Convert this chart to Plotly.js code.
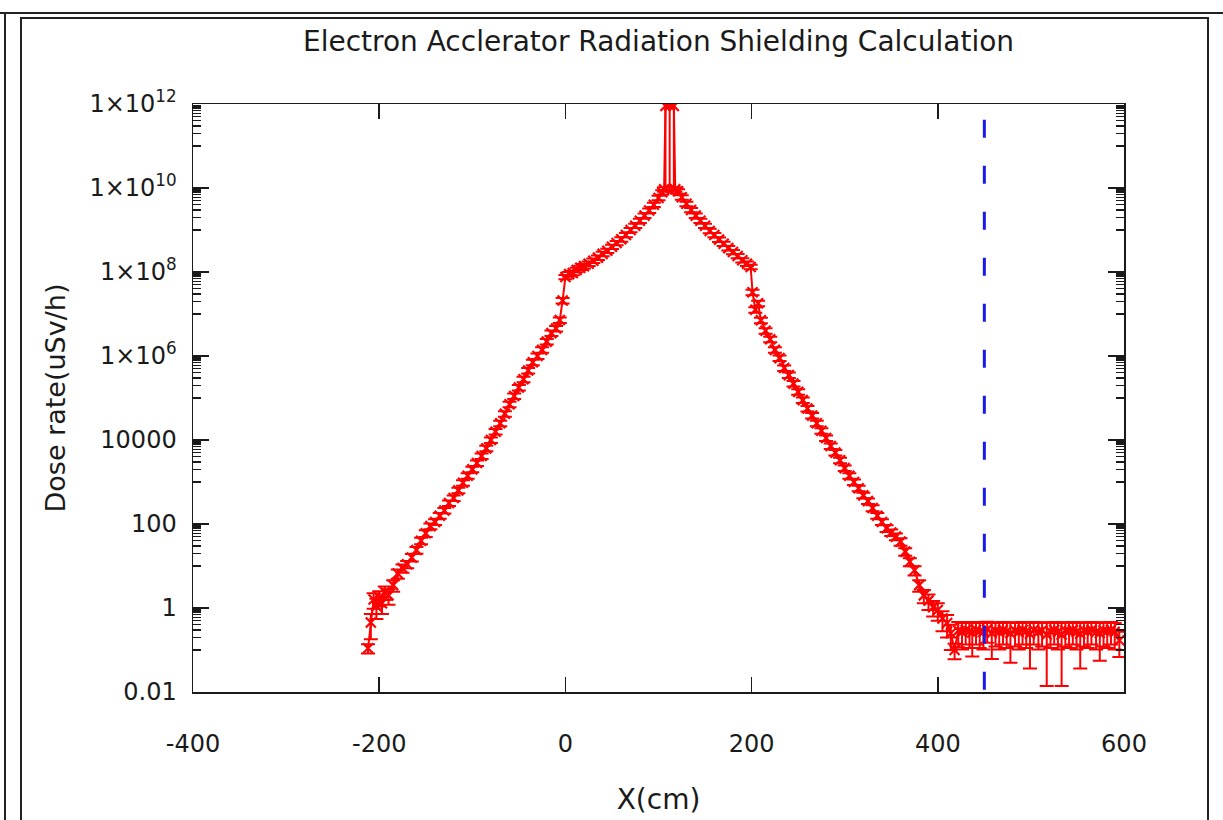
<!DOCTYPE html>
<html>
<head>
<meta charset="utf-8">
<script src="https://cdn.plot.ly/plotly-3.0.1.min.js"></script>
<style>
  html, body { margin: 0; padding: 0; background: #ffffff; }
  #wrap { position: relative; width: 1223px; height: 820px; overflow: hidden; }
  #chart { position: absolute; left: 0; top: 0; width: 1223px; height: 820px; }
  .frame { position: absolute; pointer-events: none; }
</style>
</head>
<body>
<div id="wrap">
  <div id="chart"></div>
  <div class="frame" style="left:0;top:12px;width:1223px;height:2px;background:#222;"></div>
  <div class="frame" style="left:4px;top:12px;width:2px;height:820px;background:#222;"></div>
  <div class="frame" style="left:20px;top:17px;width:1189px;height:830px;border:2px solid #222;box-sizing:border-box;"></div>
</div>
<script>
// ---- data ----
const positionCm = [
  -212,-209,-206,-203,-200,-197,-194,-190,-185,-180,-175,-170,-165,-160,-155,-150,-145,-140,-135,-130,
  -125,-120,-115,-110,-105,-100,-95,-90,-85,-80,-75,-70,-65,-60,-55,-50,-45,-40,-35,-30,
  -25,-20,-15,-10,-6,-3,0,
  4,8,12,16,20,25,30,35,40,45,50,55,60,65,70,75,80,85,90,95,100,104,106,
  107.5,112,116.5,
  118,121,125,130,135,140,145,150,155,160,165,170,175,180,185,190,195,199,
  201,204,207,210,215,220,225,230,235,240,245,250,255,260,265,270,275,280,285,290,
  295,300,305,310,315,320,325,330,335,340,345,350,355,360,365,370,375,380,385,390,
  395,400,405,410,414,418,
  422,426,430,434,437,441,445,449,453,458,462,466,470,474,478,483,487,491,495,499,
  503,508,512,517,521,525,529,533,537,541,545,549,553,557,561,565,570,574,578,582,
  586,590,595
];
const doseRate = [
  0.11,0.45,1.6,1.1,1.8,1.3,2.4,2.0,3.5,6.6,8.9,11,16,24,40,60,89,112,158,209,
  316,417,631,955,1410,2000,2820,4170,6310,1.0e4,1.58e4,2.5e4,4.2e4,7.1e4,1.12e5,1.78e5,2.8e5,4.5e5,7.1e5,1.0e6,
  1.4e6,2.2e6,3.5e6,4.5e6,7.2e6,2.1e7,7.6e7,
  8.9e7,9.5e7,1.12e8,1.26e8,1.38e8,1.58e8,1.86e8,2.2e8,2.7e8,3.2e8,4.0e8,4.9e8,6.0e8,7.6e8,1.0e9,1.26e9,1.66e9,2.2e9,2.9e9,4.0e9,5.8e9,7.9e9,9.3e9,
  9.0e11,9.2e11,9.0e11,
  9.3e9,8.3e9,6.0e9,4.2e9,3.0e9,2.2e9,1.66e9,1.26e9,9.5e8,7.6e8,5.9e8,4.7e8,3.7e8,3.0e8,2.4e8,1.9e8,1.58e8,1.32e8,
  3.3e7,1.26e7,1.8e7,7.1e6,4.0e6,2.5e6,1.4e6,8.9e5,5.2e5,3.5e5,2.2e5,1.4e5,8.9e4,5.6e4,3.8e4,2.5e4,1.66e4,1.12e4,7200,5000,
  3300,2140,1410,1000,710,480,350,240,158,112,79,63,50,38,22,12.6,7.9,3.5,2.0,1.5,
  1.05,0.9,0.56,0.44,0.25,0.1,
  0.29,0.27,0.3,0.28,0.26,0.3,0.28,0.27,0.31,0.256,0.29,0.27,0.3,0.28,0.25,0.29,0.27,0.3,0.28,0.243,
  0.3,0.27,0.29,0.233,0.28,0.3,0.27,0.232,0.29,0.28,0.3,0.27,0.243,0.29,0.28,0.3,0.27,0.253,0.29,0.28,
  0.3,0.27,0.17
];
// relative statistical error of each point, in percent
const errorPct = [
  25,60,40,50,40,45,35,40,30,25,22,20,20,18,18,18,16,16,16,15,
  15,15,15,15,15,15,15,15,15,15,15,15,15,15,15,15,15,15,15,15,
  15,15,15,15,15,15,12,
  12,12,12,12,12,12,12,12,12,12,12,12,12,12,12,12,12,12,12,12,12,12,12,
  99,99,99,
  12,12,12,12,12,12,12,12,12,12,12,12,12,12,12,12,12,12,
  15,15,15,15,15,15,15,15,15,15,15,15,15,15,15,15,15,15,15,15,
  15,15,15,15,15,15,15,16,16,16,18,18,18,20,20,22,25,30,35,40,
  40,45,50,55,60,40,
  60,62,55,60,73,55,60,62,52,76,58,62,55,60,80,58,62,55,60,85,
  55,62,58,94,60,55,62,94,58,60,55,62,85,58,60,55,62,78,58,60,
  55,62,60
];
const shieldPosCm = [450, 450];
const shieldLineDose = [4.2e11, 0.01];

const yTickVals = [0.01, 1, 100, 1e4, 1e6, 1e8, 1e10, 1e12];
const yTickText = ['0.01', '1', '100', '10000', '1×10<sup>6</sup>', '1×10<sup>8</sup>', '1×10<sup>10</sup>', '1×10<sup>12</sup>'];
const yMinorDecades = [-1, 1, 3, 5, 7, 9, 11];
const yMinorMult = [1, 2, 3, 4, 5, 6, 7, 8, 9];
const xTickVals = [-400, -200, 0, 200, 400, 600];
const xTickText = ['-400', '-200', '0', '200', '400', '600'];

// ---- build ----
const doseErr = doseRate.map((v, i) => v * errorPct[i] / 100);
const yMinorVals = [];
yMinorDecades.forEach(d => yMinorMult.forEach(m => yMinorVals.push(m * Math.pow(10, d))));

const FONT = '"DejaVu Sans", sans-serif';
const INK = '#1a1a1a';
const RED = '#ff0000';

const traces = [
  {
    type: 'scatter', mode: 'lines+markers',
    x: positionCm, y: doseRate,
    line: { color: RED, width: 2 },
    marker: { symbol: 'x-thin-open', size: 10, color: RED, line: { color: RED, width: 2.2 } },
    error_y: { type: 'data', array: doseErr, visible: true, color: RED, thickness: 2, width: 7 },
    cliponaxis: true, showlegend: false
  },
  {
    type: 'scatter', mode: 'lines',
    x: shieldPosCm, y: shieldLineDose,
    line: { color: '#1a1ae6', width: 3, dash: '18px,28px' },
    showlegend: false
  }
];

const layout = {
  width: 1223, height: 820,
  paper_bgcolor: 'rgba(0,0,0,0)', plot_bgcolor: '#ffffff',
  margin: { l: 193, r: 99, t: 104, b: 128 },
  font: { family: FONT, color: INK, size: 24 },
  title: {
    text: 'Electron Acclerator Radiation Shielding Calculation',
    font: { family: FONT, size: 28, color: INK },
    xref: 'paper', x: 0.5, xanchor: 'center',
    yref: 'container', y: 1 - 41 / 820, yanchor: 'middle'
  },
  xaxis: {
    range: [-400, 600], tickmode: 'array', tickvals: xTickVals, ticktext: xTickText,
    ticks: 'inside', ticklen: 15, tickwidth: 1.5, tickcolor: INK,
    showline: true, linecolor: INK, linewidth: 1.5, mirror: 'ticks',
    showgrid: false, zeroline: false,
    tickfont: { family: FONT, size: 24, color: INK },
    ticklabelstandoff: 30,
    title: { text: 'X(cm)', font: { family: FONT, size: 28, color: INK }, standoff: 32 }
  },
  yaxis: {
    type: 'log', range: [-2, 12], tickmode: 'array', tickvals: yTickVals, ticktext: yTickText,
    ticks: 'inside', ticklen: 16, tickwidth: 1.5, tickcolor: INK,
    minor: { tickmode: 'array', tickvals: yMinorVals, ticks: 'inside', ticklen: 8, tickwidth: 1.2, tickcolor: INK, showgrid: false },
    showline: true, linecolor: INK, linewidth: 1.5, mirror: 'ticks',
    showgrid: false, zeroline: false,
    tickfont: { family: FONT, size: 24, color: INK },
    ticklabelstandoff: 10,
    title: { text: 'Dose rate(uSv/h)', font: { family: FONT, size: 27, color: INK }, standoff: 16 }
  }
};

Plotly.newPlot('chart', traces, layout, { displayModeBar: false, staticPlot: true });
</script>
</body>
</html>
